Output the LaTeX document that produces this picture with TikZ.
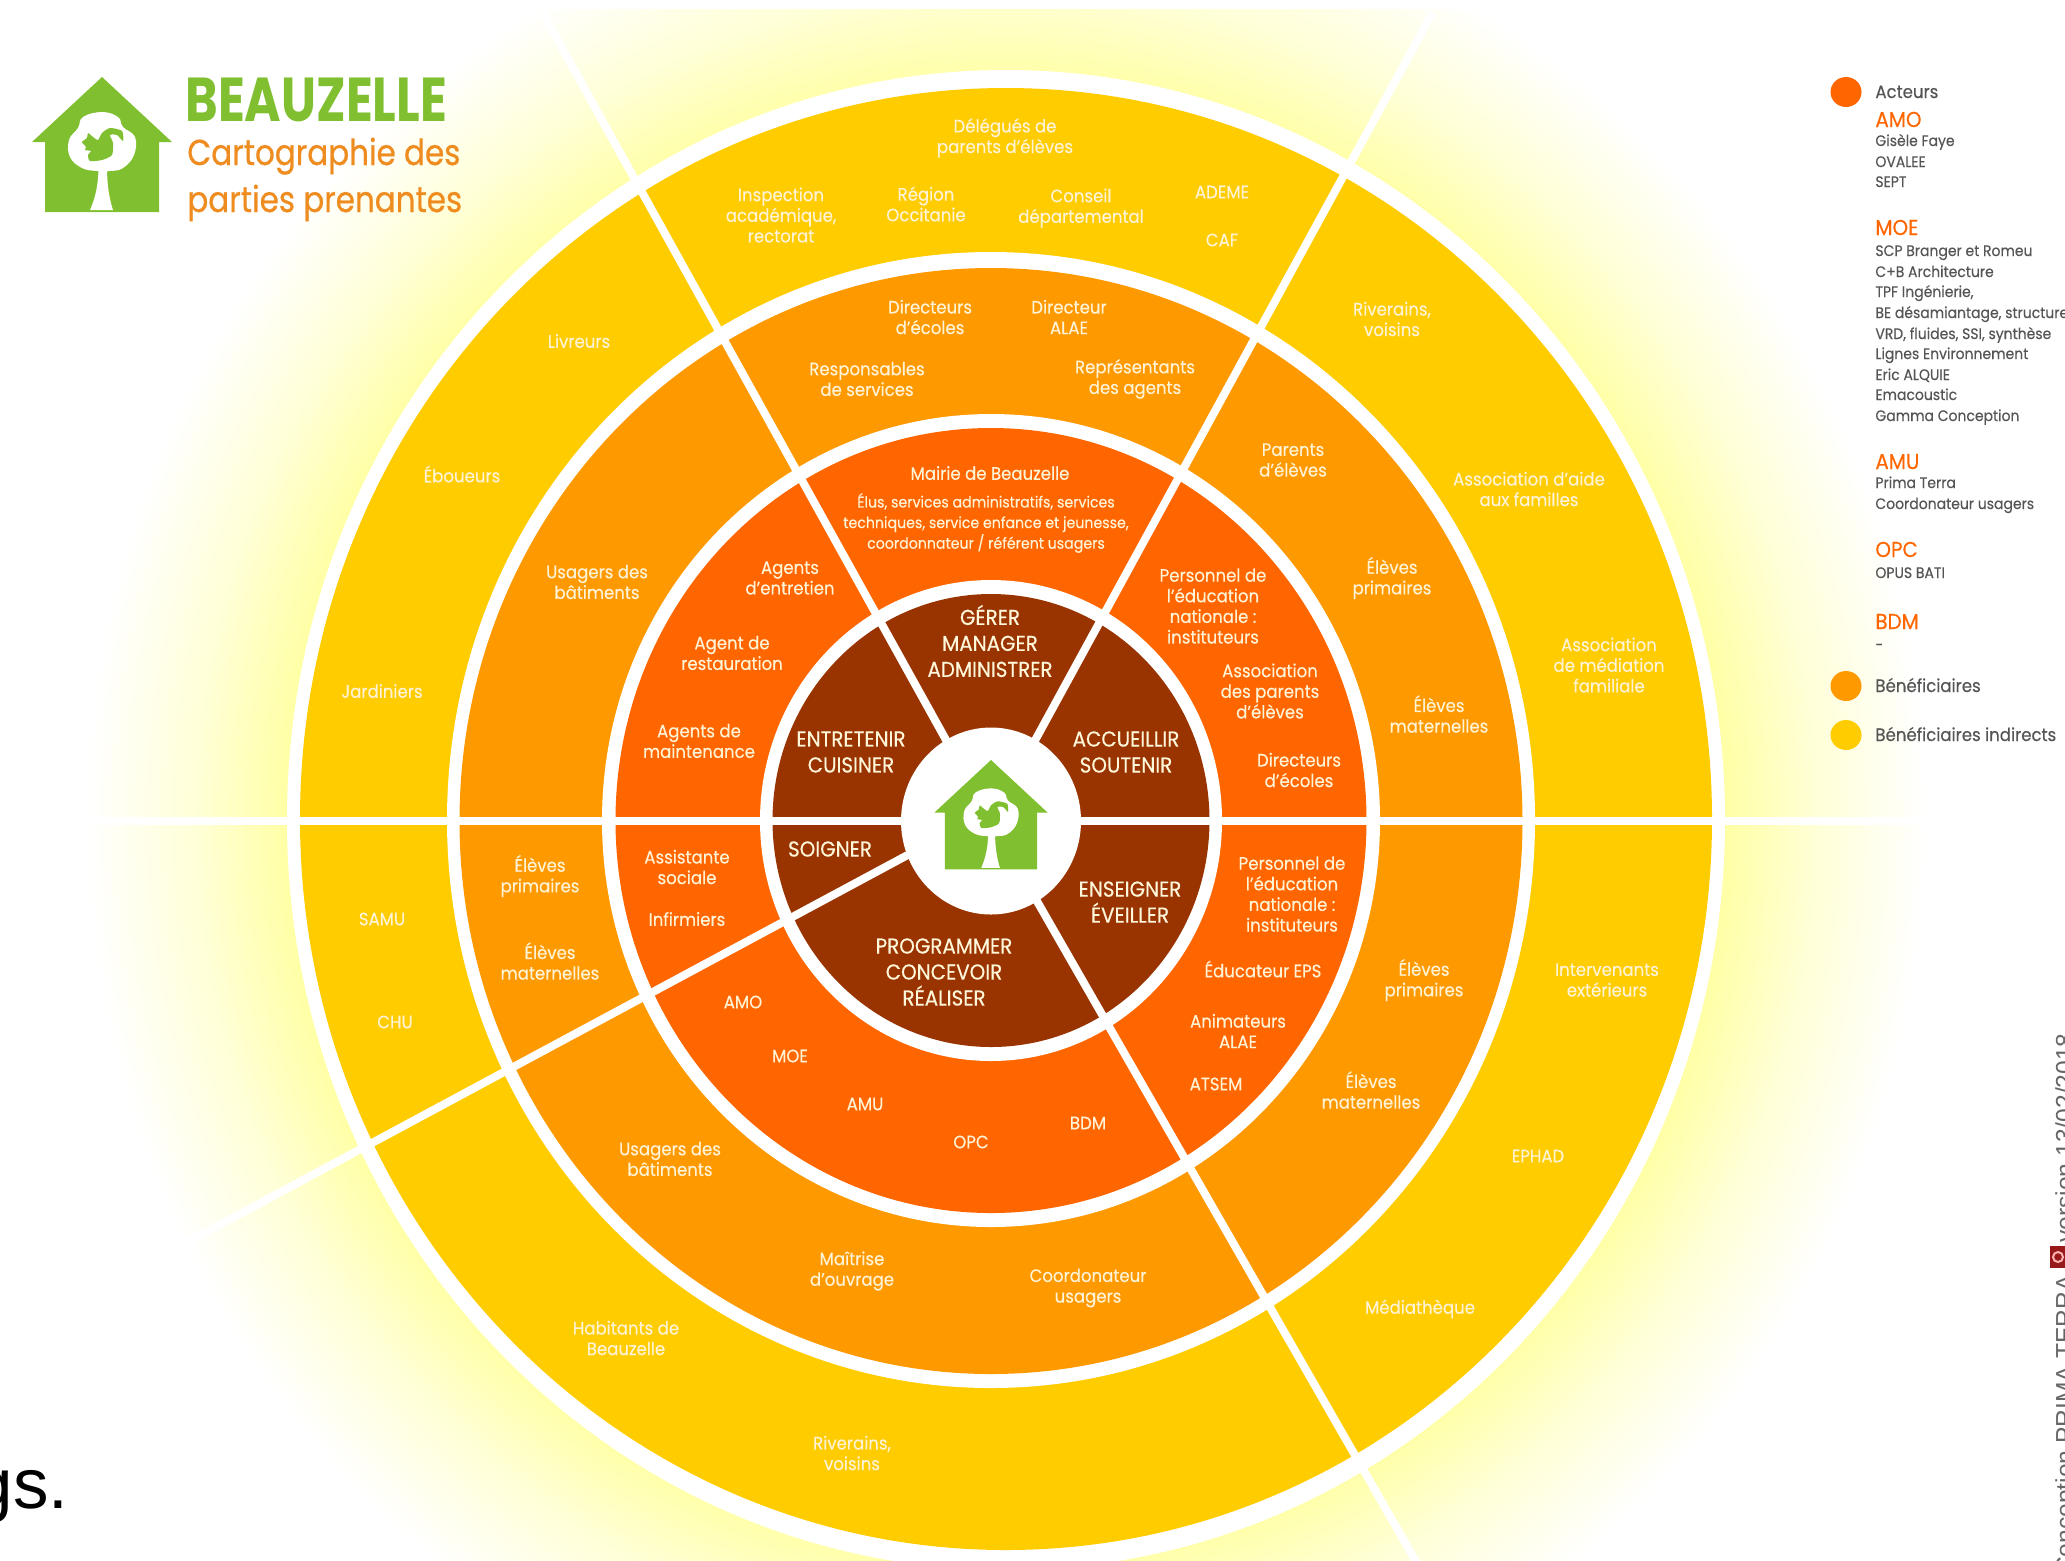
\documentclass[tikz,border=0pt]{standalone}
\usepackage{fontspec}
\setmainfont[FakeStretch=0.92,FakeBold=0.35]{Poppins}
\newfontfamily\arialfont{Liberation Sans}
\newfontfamily\bannerfont[FakeStretch=0.8]{Poppins}
\newfontfamily\subbannerfont[FakeStretch=0.86,FakeBold=0.6]{Poppins}
\definecolor{ringbrown}{HTML}{993300}
\definecolor{ringred}{HTML}{FF6600}
\definecolor{ringorange}{HTML}{FF9900}
\definecolor{ringyellow}{HTML}{FFCC00}
\definecolor{logogreen}{HTML}{80BF30}
\definecolor{titleorange}{HTML}{EE8C20}
\definecolor{labelcream}{HTML}{FFF3D6}
\definecolor{greytext}{HTML}{555555}
\definecolor{glowyellow}{HTML}{FFFFA5}
\definecolor{glowpale}{HTML}{FFFFD7}
\pgfdeclareradialshading{glowshade}{\pgfpoint{0bp}{0bp}}{%
  color(0bp)=(glowyellow);
  color(19.5bp)=(glowyellow);
  color(22bp)=(glowpale);
  color(25bp)=(white);
  color(50bp)=(white)}
\tikzset{
  lab/.style={align=center,text=labelcream,inner sep=0pt,font=\fontsize{9}{10.3}\selectfont},
  labsmall/.style={lab,font=\fontsize{7.7}{10.3}\selectfont},
  labcaps/.style={lab,text=white!85!ringyellow,font=\fontsize{10.8}{13}\selectfont},
  spoke/.style={white,line width=4pt},
  leghead/.style={anchor=base west,inner sep=0pt,text=ringred,font=\fontsize{10.8}{12}\selectfont},
  legtxt/.style={anchor=base west,inner sep=0pt,text=greytext,font=\fontsize{7.6}{10}\selectfont},
  legmain/.style={anchor=base west,inner sep=0pt,text=greytext,font=\fontsize{9}{11}\selectfont},
  credit/.style={rotate=90,inner sep=0pt,text=black!60,font=\arialfont\fontsize{12.3}{14}\selectfont},
}
% house with tree and squirrel: apex at (#1,#2)
\newcommand{\housemark}[3]{%
\begin{scope}[shift={(#1,#2)},scale=#3]
\fill[logogreen] (0,0) -- (70,65) -- (57,65) -- (57,135) -- (-57,135) -- (-57,65) -- (-70,65) -- cycle;
\fill[white] plot[smooth cycle,tension=0.7] coordinates {(0,35) (16,40) (21,50) (33,60) (32,78) (21,91) (8,94) (-5,94) (-20,91) (-32,80) (-33,63) (-24,51) (-19,40)};
\fill[white] (-3.5,90) .. controls (-3.5,110) and (-8,124) .. (-12,133) -- (11,133) .. controls (8,124) and (5,110) .. (5,90) -- cycle;
\fill[logogreen] plot[smooth cycle,tension=0.4] coordinates {(-14,56) (-9,60) (-4,63) (0,56) (8,51) (20,54) (21,64) (15,58) (8,58) (11,66) (10,78) (0,83) (-12,84) (-14,78) (-11,74) (-17,73) (-16,70) (-20,65) (-15,61)};
\end{scope}}
\begin{document}
\begin{tikzpicture}[x=0.5pt,y=-0.5pt]
\useasboundingbox (0,0) rectangle (2065,1560);
% glow
\begin{scope}
\clip (0,9) rectangle (2065,1560);
\shade[shading=glowshade] (1006,820) ellipse (920 and 945);
\end{scope}
% rings
\fill[white] (1006,820) ellipse (719 and 750);
\fill[ringyellow] (1006,819) ellipse (706 and 731);
\fill[white] (991,820) ellipse (544 and 568);
\fill[ringorange] (991,821) ellipse (531.5 and 553);
\fill[white] (991,820.5) ellipse (389 and 406.5);
\fill[ringred] (991,820.5) ellipse (375.5 and 392.5);
\fill[white] (991,820.5) ellipse (231 and 240.5);
\fill[ringbrown] (991,820.5) ellipse (218.5 and 226.5);
% spokes
\draw[spoke] (60,820.5) -- (1930,820.5);
\draw[spoke] (991,821) -- (542,12);
\draw[spoke] (991,821) -- (1433,12);
\draw[spoke] (930,843) -- (171,1251);
\draw[spoke] (991,821) -- (1418,1565);
% centre
\fill[white] (991,821) ellipse (90 and 93.5);
\housemark{991}{760}{0.81}
% logo and title
\housemark{102}{77}{1}
\node[anchor=base west,inner sep=0pt,text=logogreen,font=\bannerfont\bfseries\fontsize{31}{31}\selectfont] (title) at (185,121) {BEAUZELLE};
\node[anchor=base west,inner sep=0pt,text=titleorange,font=\subbannerfont\fontsize{18}{18}\selectfont] (subtitleA) at (187,165) {Cartographie des};
\node[anchor=base west,inner sep=0pt,text=titleorange,font=\subbannerfont\fontsize{18}{18}\selectfont] (subtitleB) at (187,212) {parties prenantes};
% yellow ring
\node[lab] (yDelegues) at (1005,138) {Délégués de\\parents d’élèves};
\node[lab] (yInspection) at (781,215) {Inspection\\académique,\\rectorat};
\node[lab] (yRegion) at (926,204) {Région\\Occitanie};
\node[lab] (yConseil) at (1081,208) {Conseil\\départemental};
\node[lab] (yAdeme) at (1222,192) {ADEME};
\node[lab] (yCaf) at (1222,240) {CAF};
\node[lab] (yRiverainsA) at (1392,319) {Riverains,\\voisins};
\node[lab] (yAide) at (1529,489) {Association d’aide\\aux familles};
\node[lab] (yMediation) at (1609,665) {Association\\de médiation\\familiale};
\node[lab] (yIntervenants) at (1607,980) {Intervenants\\extérieurs};
\node[lab] (yEphad) at (1538,1156) {EPHAD};
\node[lab] (yMediatheque) at (1420,1309) {Médiathèque};
\node[lab] (yRiverainsB) at (852,1453) {Riverains,\\voisins};
\node[lab] (yHabitants) at (626,1338) {Habitants de\\Beauzelle};
\node[lab] (ySamu) at (382,919) {SAMU};
\node[lab] (yChu) at (395,1022) {CHU};
\node[lab] (yJardiniers) at (382,691) {Jardiniers};
\node[lab] (yEboueurs) at (462,474) {Éboueurs};
\node[lab] (yLivreurs) at (579,341) {Livreurs};
% orange ring
\node[lab] (oDirecteurs) at (930,317) {Directeurs\\d’écoles};
\node[lab] (oDirecteur) at (1069,317) {Directeur\\ALAE};
\node[lab] (oResponsables) at (867,379) {Responsables\\de services};
\node[lab] (oRepresentants) at (1135,379) {Représentants\\des agents};
\node[lab] (oParents) at (1293,460) {Parents\\d’élèves};
\node[lab] (oPrimairesA) at (1392,578) {Élèves\\primaires};
\node[lab] (oMaternellesA) at (1439,714) {Élèves\\maternelles};
\node[lab] (oUsagersA) at (597,582) {Usagers des\\bâtiments};
\node[lab] (oPrimairesB) at (540,876) {Élèves\\primaires};
\node[lab] (oMaternellesB) at (550,961) {Élèves\\maternelles};
\node[lab] (oUsagersB) at (670,1159) {Usagers des\\bâtiments};
\node[lab] (oMaitrise) at (852,1271) {Maîtrise\\d’ouvrage};
\node[lab] (oCoordonateur) at (1088,1288) {Coordonateur\\usagers};
\node[lab] (oPrimairesC) at (1424,980) {Élèves\\primaires};
\node[lab] (oMaternellesC) at (1371,1090) {Élèves\\maternelles};
% red ring
\node[lab] (rMairie) at (990,473) {Mairie de Beauzelle};
\node[labsmall] (rElus) at (986,523) {Élus, services administratifs, services\\techniques, service enfance et jeunesse,\\coordonnateur / référent usagers};
\node[lab] (rEntretien) at (790,578) {Agents\\d’entretien};
\node[lab] (rRestauration) at (732,653) {Agent de\\restauration};
\node[lab] (rMaintenance) at (699,741) {Agents de\\maintenance};
\node[lab] (rAssistante) at (687,867) {Assistante\\sociale};
\node[lab] (rInfirmiers) at (687,919) {Infirmiers};
\node[lab] (rAmo) at (743,1002) {AMO};
\node[lab] (rMoe) at (790,1056) {MOE};
\node[lab] (rAmu) at (865,1104) {AMU};
\node[lab] (rOpc) at (971,1142) {OPC};
\node[lab] (rBdm) at (1088,1123) {BDM};
\node[lab] (rPersonnelA) at (1213,606) {Personnel de\\l'éducation\\nationale :\\instituteurs};
\node[lab] (rAssociation) at (1270,691) {Association\\des parents\\d’élèves};
\node[lab] (rDirecteurs) at (1299,770) {Directeurs\\d’écoles};
\node[lab] (rPersonnelB) at (1292,894) {Personnel de\\l'éducation\\nationale :\\instituteurs};
\node[lab] (rEducateur) at (1263,969) {Éducateur EPS};
\node[lab] (rAnimateurs) at (1238,1031) {Animateurs\\ALAE};
\node[lab] (rAtsem) at (1216,1084) {ATSEM};
% brown ring
\node[labcaps] (bGerer) at (990,641) {GÉRER\\MANAGER\\ADMINISTRER};
\node[labcaps] (bEntretenir) at (851,752) {ENTRETENIR\\CUISINER};
\node[labcaps] (bAccueillir) at (1126,752) {ACCUEILLIR\\SOUTENIR};
\node[labcaps] (bSoigner) at (830,849) {SOIGNER};
\node[labcaps] (bEnseigner) at (1130,902) {ENSEIGNER\\ÉVEILLER};
\node[labcaps] (bProgrammer) at (944,972) {PROGRAMMER\\CONCEVOIR\\RÉALISER};
% legend
\fill[ringred] (1846,92) ellipse (15.5 and 15);
\fill[ringorange] (1846,686) ellipse (15.5 and 15);
\fill[ringyellow] (1846,735) ellipse (15.5 and 15);
\node[legmain] (legActeurs) at (1875,98) {Acteurs};
\node[leghead] (legAmo) at (1875,127) {AMO};
\node[legtxt] (legGisele) at (1875,146) {Gisèle Faye};
\node[legtxt] (legOvalee) at (1875,167) {OVALEE};
\node[legtxt] (legSept) at (1875,187) {SEPT};
\node[leghead] (legMoe) at (1875,235) {MOE};
\node[legtxt] (legScp) at (1875,256) {SCP Branger et Romeu};
\node[legtxt] (legCb) at (1875,277) {C+B Architecture};
\node[legtxt] (legTpf) at (1875,297) {TPF Ingénierie,};
\node[legtxt] (legBe) at (1875,318) {BE désamiantage, structure};
\node[legtxt] (legVrd) at (1875,339) {VRD, fluides, SSI, synthèse};
\node[legtxt] (legLignes) at (1875,359) {Lignes Environnement};
\node[legtxt] (legEric) at (1875,380) {Eric ALQUIE};
\node[legtxt] (legEma) at (1875,400) {Emacoustic};
\node[legtxt] (legGamma) at (1875,421) {Gamma Conception};
\node[leghead] (legAmu) at (1875,469) {AMU};
\node[legtxt] (legPrima) at (1875,488) {Prima Terra};
\node[legtxt] (legCoord) at (1875,509) {Coordonateur usagers};
\node[leghead] (legOpc) at (1875,557) {OPC};
\node[legtxt] (legOpus) at (1875,578) {OPUS BATI};
\node[leghead] (legBdm) at (1875,629) {BDM};
\node[legtxt] (legDash) at (1875,650) {-};
\node[legmain] (legBenef) at (1875,692) {Bénéficiaires};
\node[legmain] (legIndirects) at (1875,741) {Bénéficiaires indirects};
% credit
\node[credit,anchor=base east] (creditA) at (2073,1275) {Conception PRIMA TERRA};
\node[credit,anchor=base west] (creditB) at (2073,1243) {version 13/02/2018};
\fill[red!55!black!90] (2050,1246) rectangle (2065,1268);
\draw[white!70!red,line width=1pt] (2058,1257) circle (5);
% cut-off caption
\node[anchor=base east,inner sep=0pt,font=\arialfont\fontsize{35.5}{36}\selectfont] (capEnd) at (69,1508) {gs.};
\end{tikzpicture}
\end{document}
